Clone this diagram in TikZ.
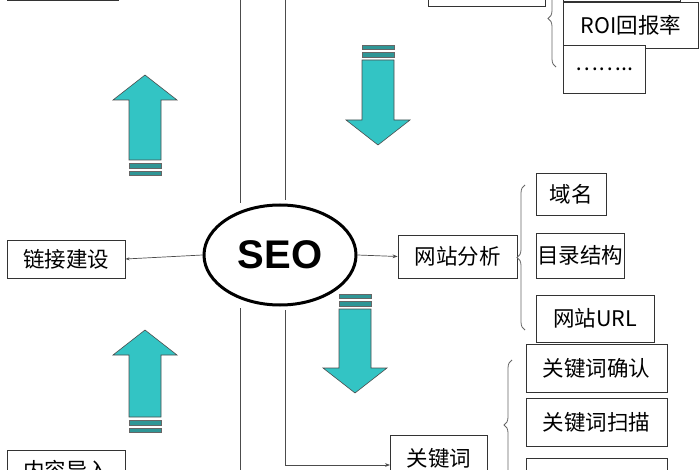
\documentclass[tikz,border=0pt]{standalone}
\usepackage{fontspec}
\setmainfont{Liberation Sans}
\newfontfamily\cjk{Noto Sans CJK SC}
\usetikzlibrary{decorations.pathreplacing,arrows.meta,shapes.geometric}
\definecolor{cy}{HTML}{33C4C4}
\definecolor{cyd}{HTML}{2E8A8A}
\tikzset{bx/.style={draw=black!80,line width=0.9pt,fill=white,inner sep=0pt,font=\cjk\fontsize{21.5}{21.5}\selectfont},
ln/.style={draw=black!70,line width=0.7pt},
br/.style={draw=black!60,line width=0.8pt,decorate,decoration={brace,amplitude=8pt}},
arr/.style={fill=cy,draw=black!70,line width=0.6pt},
stp/.style={fill=cyd!80!cy,draw=black!60,line width=0.5pt}}
\newcommand{\upar}[3]{% cx, tipy, shaftbottom
 \filldraw[arr] (#1,#2) -- (#1+32,#2+25) -- (#1+16,#2+25) -- (#1+16,#3) -- (#1-16,#3) -- (#1-16,#2+25) -- (#1-32,#2+25) -- cycle;
 \filldraw[stp] (#1-16,#3+3) rectangle (#1+16,#3+8);
 \filldraw[stp] (#1-16,#3+11) rectangle (#1+16,#3+15);}
\newcommand{\dnar}[3]{% cx, tipy, shafttop
 \filldraw[arr] (#1,#2) -- (#1+32,#2-25) -- (#1+16,#2-25) -- (#1+16,#3) -- (#1-16,#3) -- (#1-16,#2-25) -- (#1-32,#2-25) -- cycle;
 \filldraw[stp] (#1-16,#3-3) rectangle (#1+16,#3-8);
 \filldraw[stp] (#1-16,#3-11) rectangle (#1+16,#3-15);}
\begin{document}
\begin{tikzpicture}[x=1pt,y=-1pt]
\useasboundingbox (0,0) rectangle (700,470);
\clip (0,0) rectangle (700,470);
% vertical lines
\draw[ln] (240,-5) -- (240,203);
\draw[ln] (240,308) -- (240,475);
\draw[ln] (285,-5) -- (285,200);
% arrows
\upar{145}{75}{160}
\upar{145}{330}{417}
\dnar{378}{145}{60}
\dnar{355}{393}{309}
% SEO
\node[draw=black,line width=3pt,ellipse,minimum width=152pt,minimum height=100pt,font=\bfseries\fontsize{40}{40}\selectfont,fill=white] (seo) at (280,255) {SEO};
% boxes left
\node[bx,minimum width=118pt,minimum height=38pt] (lj) at (66,259) {链接建设};
\node[bx,minimum width=118pt,minimum height=40pt,anchor=north west] (nr) at (7,450) {内容导入};
\node[bx,minimum width=111pt,minimum height=40pt,anchor=south west] (tl) at (7,1) {};
% center right
\node[bx,minimum width=119pt,minimum height=43pt] (wz) at (457.5,256.5) {网站分析};
\node[bx,minimum width=70pt,minimum height=42pt] (ym) at (571,194) {域名};
\node[bx,minimum width=88pt,minimum height=45pt] (ml) at (580,255.5) {目录结构};
\node[bx,minimum width=118pt,minimum height=47pt] (url) at (595,318.5) {网站URL};
\draw[br] (525,330) -- (525,185);
% keyword
\node[bx,minimum width=97pt,minimum height=45pt,anchor=north west] (gjc) at (390,435) {关键词};
\node[bx,minimum width=141pt,minimum height=48pt] (qr) at (596.5,368) {关键词确认};
\node[bx,minimum width=141pt,minimum height=48pt] (sm) at (596.5,422) {关键词扫描};
\node[bx,minimum width=141pt,minimum height=40pt,anchor=north west] (k3) at (526,458) {};
\draw[br] (512,490) -- (512,360);
% top right
\node[bx,minimum width=117pt,minimum height=40pt,anchor=south west] (tr) at (428,7) {};
\node[bx,minimum width=117pt,minimum height=40pt,anchor=south west] (t0) at (563,2) {};
\node[bx,minimum width=135pt,minimum height=46pt,anchor=north west] (roi) at (563,2) {ROI回报率};
\node[bx,minimum width=82pt,minimum height=48pt,anchor=north west] (dots) at (563,45) {……..};
\draw[br] (556,67) -- (556,-30);
% connectors
\coordinate (kin) at (390,465);
\coordinate (kst) at (285,310);
\draw[ln,-{Stealth[length=4pt]}] (seo.west) -- (lj.east);
\draw[ln,-{Stealth[length=5pt]}] (seo.east) -- (wz.west);
\draw[ln,-{Stealth[length=5pt]}] (kst) -- (285,465) -- (kin);
\end{tikzpicture}
\end{document}
